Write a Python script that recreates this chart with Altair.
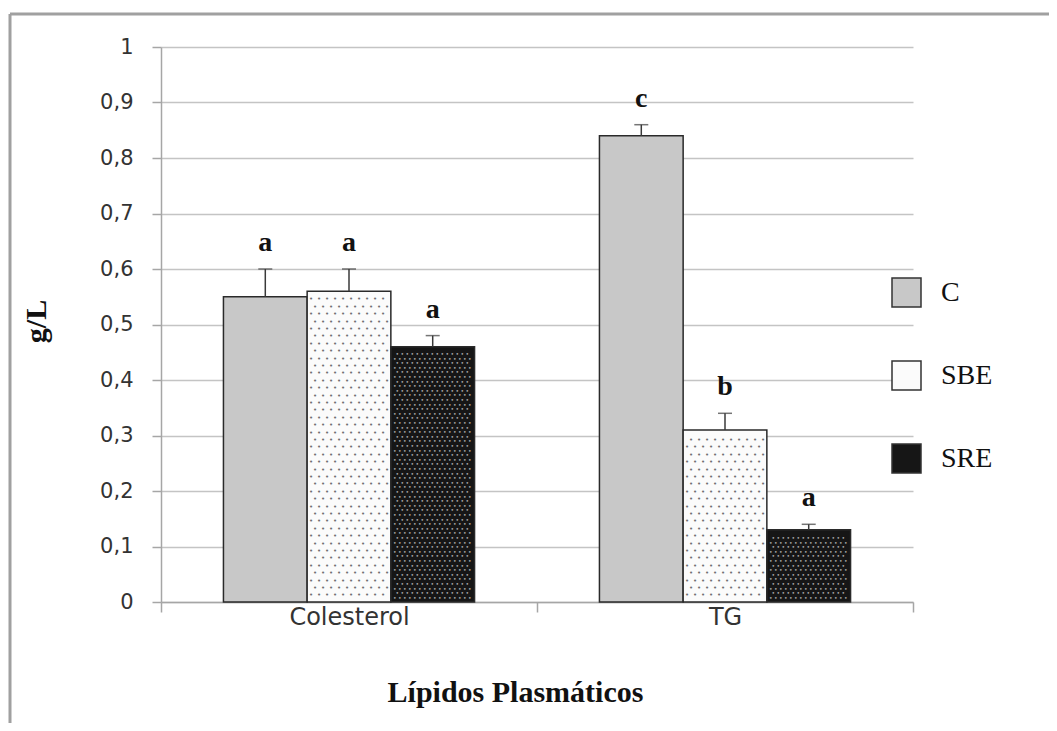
import altair as alt
import pandas as pd

# ---- data ----
categories = ["Colesterol", "TG"]
series = ["C", "SBE", "SRE"]
values_C = [0.55, 0.84]
values_SBE = [0.56, 0.31]
values_SRE = [0.46, 0.13]
err_C = [0.05, 0.02]
err_SBE = [0.04, 0.03]
err_SRE = [0.02, 0.01]
letters_C = ["a", "c"]
letters_SBE = ["a", "b"]
letters_SRE = ["a", "a"]
y_ticks = [0, 0.1, 0.2, 0.3, 0.4, 0.5, 0.6, 0.7, 0.8, 0.9, 1]

fills = ["#c8c8c8", "#fbfbfb", "#161616"]

vals = {"C": values_C, "SBE": values_SBE, "SRE": values_SRE}
errs = {"C": err_C, "SBE": err_SBE, "SRE": err_SRE}
lets = {"C": letters_C, "SBE": letters_SBE, "SRE": letters_SRE}
rows = []
for s in series:
    for i, c in enumerate(categories):
        rows.append({"cat": c, "series": s, "value": vals[s][i],
                     "top": vals[s][i] + errs[s][i], "letter": lets[s][i]})
df = pd.DataFrame(rows)

W, H = 752, 555
SERIF = "Liberation Serif"
SANS = "DejaVu Sans"
AX = "#a6a6a6"

x_axis = alt.Axis(title="Lípidos Plasmáticos", labelAngle=0, tickBand="extent",
                  tickSize=10, labelPadding=-7, labelFont=SANS, labelFontSize=24,
                  labelColor="#333333", titleFont=SERIF, titleFontSize=30,
                  titleFontWeight="bold", titleColor="#111111", titleX=354,
                  titleY=99, titleBaseline="alphabetic", domainColor=AX,
                  tickColor=AX, domainWidth=1.5, tickWidth=1.5)
y_axis = alt.Axis(title="g/L", values=y_ticks,
                  labelExpr="replace(format(datum.value, '.1~f'), '.', ',')",
                  tickSize=9, labelPadding=19, labelFont=SANS, labelFontSize=21,
                  labelColor="#333333", titleFont=SERIF, titleFontSize=30,
                  titleFontWeight="bold", titleColor="#111111", titleX=-110,
                  titleY=274, titleAngle=-90, titleBaseline="bottom",
                  domainColor=AX, tickColor=AX, gridColor="#c4c4c4",
                  gridWidth=1.5, domainWidth=1.5, tickWidth=1.5)

X = alt.X("cat:N", sort=categories, axis=x_axis,
          scale=alt.Scale(paddingInner=0, paddingOuter=0))
XO = alt.XOffset("series:N", sort=series,
                 scale=alt.Scale(domain=series, paddingInner=0, paddingOuter=0.746))
yscale = alt.Scale(domain=[0, 1], nice=False)


def Y(field):
    return alt.Y(field, scale=yscale, axis=y_axis)


base = alt.Chart(df)

bars = base.mark_bar(stroke="#2a2a2a", strokeWidth=1.5).encode(
    x=X, xOffset=XO, y=Y("value:Q"),
    color=alt.Color("series:N", sort=series,
                    scale=alt.Scale(domain=series, range=fills),
                    legend=alt.Legend(title=None, orient="none", legendX=730,
                                      legendY=230, symbolType="square",
                                      symbolSize=841, symbolStrokeColor="#333333",
                                      symbolStrokeWidth=1.5, labelFont=SERIF,
                                      labelFontSize=28, labelColor="#111111",
                                      labelOffset=19, rowPadding=48, padding=0)),
)

# dotted texture of SBE / SRE bars, derived from each bar's value
dots_base = (
    base.transform_filter(alt.FieldOneOfPredicate(field="series", oneOf=["SBE", "SRE"]))
    .transform_calculate(sp="datum.series == 'SBE' ? 7.4 : 4.6")
    .transform_calculate(rws=f"sequence(0, floor(datum.value * {H} / datum.sp - 0.8))")
    .transform_flatten(["rws"], as_=["row"])
    .transform_calculate(yd=f"(datum.row + 0.9) * datum.sp / {H}",
                         par="datum.row % 2")
)
dot_layers = []
pattern = {
    "SBE": dict(step=8.0, color="#6e6e6e", size=7),
    "SRE": dict(step=5.0, color="#a8a8a8", size=6),
}
for s, p in pattern.items():
    for par in (0, 1):
        start = -38.0 if par == 0 else -38.0 + p["step"] / 2
        dx = start
        while dx <= 38.01:
            dot_layers.append(
                dots_base.transform_filter(
                    f"datum.series == '{s}' && datum.par == {par}")
                .mark_text(text="•", font="DejaVu Sans", fontSize=p["size"],
                           color=p["color"], dx=dx, baseline="middle",
                           align="center")
                .encode(x=X, xOffset=XO, y=Y("yd:Q"))
            )
            dx += p["step"]

err_rule = base.mark_rule(color="#3a3a3a", strokeWidth=1.5).encode(
    x=X, xOffset=XO, y=Y("value:Q"), y2="top:Q")
err_cap = base.mark_tick(color="#3a3a3a", thickness=1.5, size=14,
                         orient="horizontal").encode(x=X, xOffset=XO, y=Y("top:Q"))
labels = base.mark_text(font=SERIF, fontWeight="bold", fontSize=28,
                        baseline="alphabetic", dy=-18, color="#111111").encode(
    x=X, xOffset=XO, y=Y("top:Q"), text="letter:N")

frame_df = pd.DataFrame({"k": [0]})
frame_left = alt.Chart(frame_df).mark_rule(color="#a0a0a0", strokeWidth=3).encode(
    x=alt.value(-151), y=alt.value(-33), y2=alt.value(720))
frame_top = alt.Chart(frame_df).mark_rule(color="#a0a0a0", strokeWidth=3).encode(
    x=alt.value(-151), x2=alt.value(900), y=alt.value(-33))

chart = alt.layer(bars, *dot_layers, err_rule, err_cap, labels, frame_left,
                  frame_top).properties(
    width=W, height=H,
    autosize=alt.AutoSizeParams(type="none"),
    padding={"left": 153, "top": 39, "right": 136, "bottom": 121},
    background="white",
).configure_view(stroke=None)

chart.save("out.html", embed_options={"renderer": "svg", "actions": False})
